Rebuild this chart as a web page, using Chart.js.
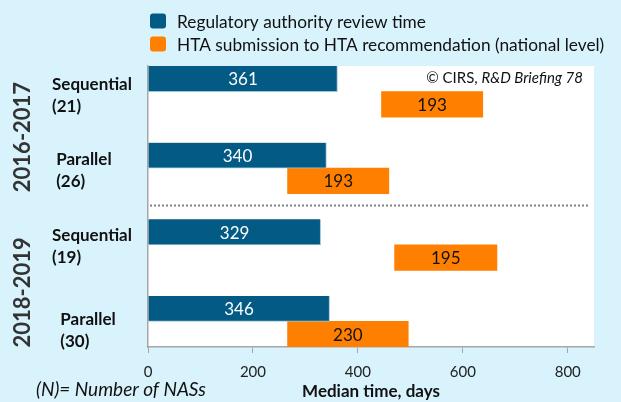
<!DOCTYPE html>
<html>
<head>
<meta charset="utf-8">
<script src="https://cdn.jsdelivr.net/npm/chart.js@4.4.0/dist/chart.umd.min.js"></script>
<style>
  html, body { margin: 0; padding: 0; background: #d9f3fd; }
  #wrap { width: 621px; height: 402px; }
</style>
</head>
<body>
<div id="wrap"><canvas id="chart" width="621" height="402"></canvas></div>
<script>
// data
const groupLabels = [['Sequential', '(21)'], [' Parallel', ' (26)'], ['Sequential', '(19)'], ['  Parallel', '  (30)']];
const periodLabels = ['2016-2017', '2018-2019'];
const regulatoryDays = [361, 340, 329, 346];
const htaStartDays = [445, 266, 470, 266];
const htaDays = [193, 193, 195, 230];
const regRows = [0, 3, 6, 9];
const htaRows = [1, 4, 7, 10];
const labelRows = [0.65, 3.6, 6.55, 9.85];
const periodRows = [2.28, 8.36];
const xTicks = [0, 200, 400, 600, 800];

const BLUE = '#035a84';
const ORANGE = '#ff8000';
const FONT = 'Lato, "Open Sans", sans-serif';

const regData = regulatoryDays.map((v, i) => ({ x: [0, v], y: regRows[i] }));
const htaData = htaDays.map((v, i) => ({ x: [htaStartDays[i], htaStartDays[i] + v], y: htaRows[i] }));

// white plot area
const plotBg = {
  id: 'plotBg',
  beforeDraw(chart) {
    const { ctx, chartArea: a } = chart;
    ctx.save();
    ctx.fillStyle = '#ffffff';
    ctx.fillRect(a.left, a.top, a.right - a.left, a.bottom - a.top);
    ctx.restore();
  }
};

// numbers on the bars
const barLabels = {
  id: 'barLabels',
  afterDatasetsDraw(chart) {
    const ctx = chart.ctx;
    ctx.save();
    ctx.font = '17px ' + FONT;
    ctx.textAlign = 'center';
    ctx.textBaseline = 'middle';
    chart.data.datasets.forEach((ds, di) => {
      const meta = chart.getDatasetMeta(di);
      meta.data.forEach((bar, i) => {
        const p = bar.getCenterPoint();
        ctx.fillStyle = di === 0 ? '#ffffff' : '#111111';
        ctx.fillText(String(ds.values[i]), p.x, p.y + 1);
      });
    });
    ctx.restore();
  }
};

// divider, period labels, notes, legend
const extras = {
  id: 'extras',
  afterDraw(chart) {
    const { ctx, chartArea: a } = chart;
    const y = chart.scales.y;
    ctx.save();

    // dotted divider between periods
    const dy = Math.round(y.getPixelForValue(4.95)) + 0.5;
    ctx.strokeStyle = '#808080';
    ctx.lineWidth = 2;
    ctx.setLineDash([2, 2]);
    ctx.beginPath();
    ctx.moveTo(a.left + 2, dy);
    ctx.lineTo(a.right - 6, dy);
    ctx.stroke();
    ctx.setLineDash([]);

    // rotated period labels
    ctx.fillStyle = '#333333';
    ctx.font = 'bold 22px ' + FONT;
    ctx.textAlign = 'center';
    ctx.textBaseline = 'middle';
    periodLabels.forEach((t, i) => {
      ctx.save();
      ctx.translate(23, y.getPixelForValue(periodRows[i]));
      ctx.rotate(-Math.PI / 2);
      ctx.fillText(t, 0, 0);
      ctx.restore();
    });

    // source note
    ctx.fillStyle = '#111111';
    ctx.textBaseline = 'middle';
    ctx.textAlign = 'left';
    ctx.font = 'italic 15px ' + FONT;
    const it = 'R&D Briefing 78';
    const itW = ctx.measureText(it).width;
    ctx.font = '15px ' + FONT;
    const nt = '\u00a9 CIRS, ';
    const ntW = ctx.measureText(nt).width;
    const x0 = 583 - itW - ntW;
    ctx.fillText(nt, x0, 78);
    ctx.font = 'italic 15px ' + FONT;
    ctx.fillText(it, x0 + ntW, 78);

    // footnote
    ctx.font = 'italic 19px ' + FONT;
    ctx.fillText('(N)= Number of NASs', 36, 390);

    // legend
    ctx.font = '17.3px ' + FONT;
    chart.data.datasets.forEach((ds, i) => {
      const cy = 21 + i * 23;
      ctx.fillStyle = ds.backgroundColor;
      ctx.beginPath();
      ctx.roundRect(150, cy - 7.5, 16, 15, 3);
      ctx.fill();
      ctx.fillStyle = '#111111';
      ctx.fillText(ds.label, 177, cy + 1);
    });

    ctx.restore();
  }
};

new Chart(document.getElementById('chart'), {
  type: 'bar',
  data: {
    datasets: [
      {
        label: 'Regulatory authority review time',
        data: regData,
        values: regulatoryDays,
        backgroundColor: BLUE,
        borderColor: '#9cc4d8',
        borderWidth: { right: 1, bottom: 1 },
        borderSkipped: false,
        grouped: false,
        barPercentage: 1,
        categoryPercentage: 1
      },
      {
        label: 'HTA submission to HTA recommendation (national level)',
        data: htaData,
        values: htaDays,
        backgroundColor: ORANGE,
        borderWidth: 0,
        grouped: false,
        barPercentage: 1,
        categoryPercentage: 1
      }
    ]
  },
  options: {
    responsive: false,
    animation: false,
    indexAxis: 'y',
    layout: { padding: { top: 66, right: 27, left: 52, bottom: 0 } },
    plugins: {
      legend: { display: false },
      tooltip: { enabled: false }
    },
    scales: {
      x: {
        type: 'linear',
        min: 0,
        max: 850,
        afterBuildTicks: s => { s.ticks = xTicks.map(v => ({ value: v })); },
        afterFit: s => { s.height = 55; },
        grid: { drawOnChartArea: false, drawTicks: true, tickLength: 6, color: '#a6a6a6' },
        border: { color: '#a6a6a6', width: 1.5 },
        ticks: { color: '#222222', font: { family: FONT, size: 15 }, padding: 10, maxRotation: 0 },
        title: {
          display: true,
          text: 'Median time, days',
          color: '#111111',
          font: { family: FONT, size: 17, weight: 'bold' },
          padding: { top: 0, bottom: 0 }
        }
      },
      y: {
        type: 'linear',
        reverse: true,
        offset: false,
        min: -0.5,
        max: 10.5,
        afterBuildTicks: s => { s.ticks = labelRows.map(v => ({ value: v })); },
        afterFit: s => { s.width = 96; },
        grid: { display: false },
        border: { color: '#a6a6a6', width: 1.5 },
        ticks: {
          crossAlign: 'far',
          color: '#111111',
          font: { family: FONT, size: 17, weight: 'bold', lineHeight: 1.3 },
          callback: (v, i) => groupLabels[i]
        }
      }
    }
  },
  plugins: [plotBg, barLabels, extras]
});
</script>
</body>
</html>
